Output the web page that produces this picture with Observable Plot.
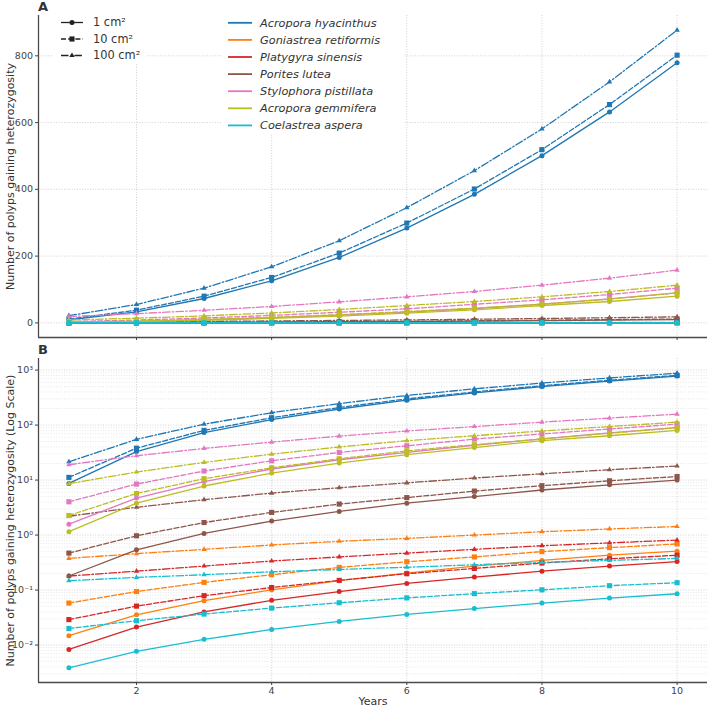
<!DOCTYPE html>
<html>
<head>
<meta charset="utf-8">
<script src="https://cdn.jsdelivr.net/npm/d3@7"></script>
<script src="https://cdn.jsdelivr.net/npm/@observablehq/plot@0.6"></script>
<style>
  html, body { margin: 0; padding: 0; background: #fff; }
  #fig { position: relative; width: 709px; height: 706px; font-family: "DejaVu Sans", sans-serif; overflow: hidden; }
  #fig > svg, #fig > div { position: absolute; left: 0; }
  .panel-letter { position: absolute; font-weight: bold; font-size: 13px; color: #333; }
</style>
</head>
<body>
<div id="fig"></div>
<script>
// Simulation years
const years = [1, 2, 3, 4, 5, 6, 7, 8, 9, 10];

// Colony areas (line style + marker per area)
const areaLabels = ["1 cm²", "10 cm²", "100 cm²"];
const areaSymbols = ["circle", "square", "triangle"];
const areaDash = [null, "5,2.2", "7.5,2.2,1.5,2.2"];
const areaRadius = [2.5, 2.9, 2.0];

// Species and their colours
const speciesNames = [
  "Acropora hyacinthus",
  "Goniastrea retiformis",
  "Platygyra sinensis",
  "Porites lutea",
  "Stylophora pistillata",
  "Acropora gemmifera",
  "Coelastrea aspera"
];
const speciesColors = ["#1f77b4", "#ff7f0e", "#d62728", "#8c564b", "#e377c2", "#bcbd22", "#17becf"];

// Polyps gaining heterozygosity per year; rows = 1, 10, 100 cm²
const acroporaHyacinthus = [
  [8.7, 33, 73, 126, 196, 284, 385, 501, 632, 779],
  [11.2, 38, 80, 136, 209, 299, 401, 519, 654, 802],
  [21.5, 55, 104, 168, 246, 345, 456, 581, 722, 877]
];
const goniastreaRetiformis = [
  [0.0148, 0.0355, 0.064, 0.101, 0.148, 0.204, 0.272, 0.345, 0.43, 0.51],
  [0.058, 0.094, 0.138, 0.19, 0.258, 0.327, 0.40, 0.50, 0.59, 0.69],
  [0.376, 0.46, 0.55, 0.66, 0.77, 0.87, 1.0, 1.15, 1.29, 1.43]
];
const platygyraSinensis = [
  [0.0083, 0.0212, 0.040, 0.065, 0.094, 0.132, 0.172, 0.22, 0.273, 0.33],
  [0.029, 0.051, 0.079, 0.111, 0.15, 0.198, 0.247, 0.31, 0.37, 0.43],
  [0.18, 0.22, 0.273, 0.337, 0.40, 0.47, 0.55, 0.64, 0.72, 0.81]
];
const poritesLutea = [
  [0.18, 0.54, 1.07, 1.8, 2.69, 3.8, 5.0, 6.6, 8.2, 10.0],
  [0.47, 0.97, 1.69, 2.58, 3.66, 4.8, 6.3, 7.9, 9.7, 11.6],
  [2.2, 3.2, 4.4, 5.8, 7.25, 8.9, 10.9, 13.0, 15.4, 18.0]
];
const stylophoraPistillata = [
  [1.58, 4.7, 9.4, 15.9, 23.4, 32, 43, 56, 72, 90],
  [4.03, 8.45, 14.6, 22.4, 31.8, 42, 55.6, 69, 85, 104],
  [19.0, 27.7, 37.6, 49, 63, 78, 94, 113, 134, 158]
];
const acroporaGemmifera = [
  [1.15, 3.8, 7.8, 13.4, 20.4, 29, 39, 52, 64, 80],
  [2.27, 5.7, 10.6, 16.7, 24.4, 34, 44, 56, 71, 90],
  [8.6, 14, 21, 29.6, 40, 52, 64, 78, 94, 113]
];
const coelastreaAspera = [
  [0.00386, 0.0077, 0.0127, 0.0192, 0.0269, 0.036, 0.046, 0.058, 0.0716, 0.0857],
  [0.020, 0.0277, 0.0366, 0.047, 0.0587, 0.072, 0.086, 0.101, 0.12, 0.136],
  [0.148, 0.17, 0.19, 0.215, 0.237, 0.26, 0.288, 0.318, 0.346, 0.376]
];

// Tick values
const xTicks = [2, 4, 6, 8, 10];
const yTicksLinear = [0, 200, 400, 600, 800];
const yTicksLog = [1e-2, 1e-1, 1e0, 1e1, 1e2, 1e3];

const speciesValues = [
  acroporaHyacinthus, goniastreaRetiformis, platygyraSinensis, poritesLutea,
  stylophoraPistillata, acroporaGemmifera, coelastreaAspera
];

// Long-format table built from the arrays above
const series = [];
speciesNames.forEach((name, si) => {
  areaLabels.forEach((area, ai) => {
    series.push({
      species: name, area, si, ai,
      points: years.map((year, i) => ({ year, value: speciesValues[si][ai][i] }))
    });
  });
});
const allValues = series.flatMap(s => s.points.map(p => p.value));

// Axis limits with 5% padding around the data
const xDomain = [d3.min(years) - 0.05 * (d3.max(years) - d3.min(years)),
                 d3.max(years) + 0.05 * (d3.max(years) - d3.min(years))];
const [vMin, vMax] = d3.extent(allValues);
const linDomain = [vMin - 0.05 * (vMax - vMin), vMax + 0.05 * (vMax - vMin)];
const lMin = Math.log10(vMin), lMax = Math.log10(vMax);
const logDomain = [10 ** (lMin - 0.05 * (lMax - lMin)), 10 ** (lMax + 0.05 * (lMax - lMin))];

// Minor log gridlines (2..9 × each decade inside the domain)
const minorLog = [];
for (let e = -3; e <= 3; e++) for (let k = 2; k <= 9; k++) {
  const v = k * 10 ** e;
  if (v > logDomain[0] && v < logDomain[1]) minorLog.push(v);
}

const sup = { "-": "⁻", "0": "⁰", "1": "¹", "2": "²", "3": "³", "4": "⁴", "5": "⁵", "6": "⁶", "7": "⁷", "8": "⁸", "9": "⁹" };
const powTen = d => "10" + String(Math.round(Math.log10(d))).split("").map(c => sup[c]).join("");

const gridStyle = { stroke: "#c4c4c4", strokeOpacity: 1, strokeWidth: 0.8, strokeDasharray: "1,1.6" };
const minorGridStyle = { stroke: "#d6d6d6", strokeOpacity: 1, strokeWidth: 0.6, strokeDasharray: "1,1.6" };
const spineStyle = { stroke: "#4a4a4a", strokeWidth: 1.3 };

function seriesMarks() {
  const marks = [];
  for (const s of series) {
    const color = speciesColors[s.si];
    marks.push(Plot.line(s.points, {
      x: "year", y: "value", stroke: color, strokeWidth: 1.3,
      strokeDasharray: areaDash[s.ai] || undefined
    }));
    marks.push(Plot.dot(s.points, {
      x: "year", y: "value", fill: color, stroke: "none",
      symbol: areaSymbols[s.ai], r: areaRadius[s.ai]
    }));
  }
  return marks;
}

const baseStyle = { fontFamily: "DejaVu Sans, sans-serif", fontSize: "9.5px", color: "#444", background: "white", overflow: "visible" };

// Panel A: linear scale
const plotA = Plot.plot({
  width: 709, height: 350,
  marginLeft: 38, marginRight: 2, marginTop: 15, marginBottom: 13,
  style: baseStyle,
  x: { domain: xDomain },
  y: { domain: linDomain },
  marks: [
    Plot.gridX(xTicks, gridStyle),
    Plot.gridY(yTicksLinear, gridStyle),
    ...seriesMarks(),
    Plot.ruleX([xDomain[0]], spineStyle),
    Plot.ruleY([linDomain[0]], spineStyle),
    Plot.axisX(xTicks, { tickSize: 3, tickFormat: () => "", label: null }),
    Plot.axisY(yTicksLinear, {
      tickSize: 3, tickPadding: 2.5, tickFormat: d => String(d),
      label: "Number of polyps gaining heterozygosity",
      labelAnchor: "center", labelArrow: "none", labelOffset: 32
    })
  ]
});

// Panel B: log scale
const plotB = Plot.plot({
  width: 709, height: 356,
  marginLeft: 38, marginRight: 2, marginTop: 8, marginBottom: 24,
  style: baseStyle,
  x: { domain: xDomain },
  y: { type: "log", domain: logDomain },
  marks: [
    Plot.gridY(minorLog, minorGridStyle),
    Plot.gridX(xTicks, gridStyle),
    Plot.gridY(yTicksLog, gridStyle),
    ...seriesMarks(),
    Plot.ruleX([xDomain[0]], spineStyle),
    Plot.ruleY([logDomain[0]], spineStyle),
    Plot.axisX(xTicks, {
      tickSize: 3, tickPadding: 1.5, tickFormat: d => String(d),
      label: "Years", labelAnchor: "center", labelArrow: "none", labelOffset: 22
    }),
    Plot.axisY(yTicksLog, {
      tickSize: 3, tickPadding: 2.5, tickFormat: powTen,
      label: "Number of polyps gaining heterozygosity (Log Scale)",
      labelAnchor: "center", labelArrow: "none", labelOffset: 32
    })
  ]
});

const fig = document.getElementById("fig");
plotA.style.top = "0px";
plotB.style.top = "350px";
fig.appendChild(plotA);
fig.appendChild(plotB);

// Axis titles slightly larger than tick labels
for (const svg of [plotA, plotB]) {
  svg.querySelectorAll('g[aria-label="y-axis label"] text, g[aria-label="x-axis label"] text')
    .forEach(t => { t.setAttribute("font-size", "11px"); t.style.fontSize = "11px"; t.setAttribute("fill", "#333"); });
}

// Panel letters
for (const [txt, top] of [["A", -1], ["B", 342]]) {
  const el = document.createElement("div");
  el.className = "panel-letter";
  el.textContent = txt;
  el.style.left = "38px";
  el.style.top = top + "px";
  fig.appendChild(el);
}

// Legends overlaid on panel A
const legend = d3.select(fig).append("svg")
  .attr("width", 709).attr("height", 150)
  .style("position", "absolute").style("left", "0px").style("top", "0px")
  .style("font-family", "DejaVu Sans, sans-serif");

const legendSymbols = { circle: d3.symbolCircle, square: d3.symbolSquare, triangle: d3.symbolTriangle };

// Area legend (line style + marker)
const lgA = legend.append("g");
lgA.append("rect").attr("x", 53).attr("y", 14).attr("width", 94).attr("height", 50).attr("fill", "white");
areaLabels.forEach((label, i) => {
  const y = 22.5 + i * 16.5;
  lgA.append("line").attr("x1", 61).attr("x2", 83).attr("y1", y).attr("y2", y)
    .attr("stroke", "#222").attr("stroke-width", 1.3)
    .attr("stroke-dasharray", areaDash[i] || null);
  lgA.append("path")
    .attr("d", d3.symbol(legendSymbols[areaSymbols[i]], Math.PI * areaRadius[i] ** 2)())
    .attr("transform", `translate(72,${y})`).attr("fill", "#222");
  lgA.append("text").attr("x", 93).attr("y", y).attr("dy", "0.35em")
    .attr("font-size", 11.4).attr("fill", "#333").text(label);
});

// Species legend (colour)
const lgB = legend.append("g");
lgB.append("rect").attr("x", 221).attr("y", 14).attr("width", 182).attr("height", 120).attr("fill", "white");
speciesNames.forEach((name, i) => {
  const y = 22.8 + i * 17.1;
  lgB.append("line").attr("x1", 228).attr("x2", 252).attr("y1", y).attr("y2", y)
    .attr("stroke", speciesColors[i]).attr("stroke-width", 1.8);
  lgB.append("text").attr("x", 260).attr("y", y).attr("dy", "0.35em")
    .attr("font-size", 11.3).attr("font-style", "italic").attr("fill", "#333").text(name);
});
</script>
</body>
</html>
